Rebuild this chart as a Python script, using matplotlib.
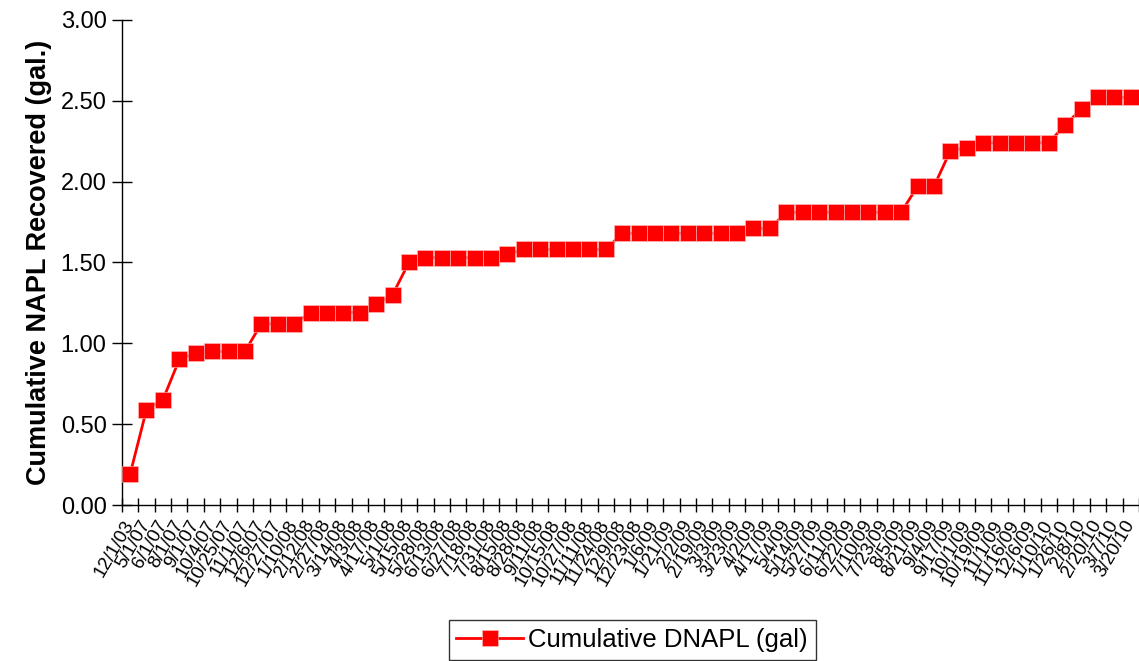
import numpy as np
import matplotlib.pyplot as plt

plt.rcParams["font.family"] = ["Liberation Sans", "DejaVu Sans"]

dates = [
    "12/1/03", "5/1/07", "6/1/07", "8/1/07", "9/1/07", "10/4/07", "10/25/07",
    "11/1/07", "12/6/07", "12/27/07", "1/10/08", "2/12/08", "2/27/08", "3/14/08",
    "4/3/08", "4/17/08", "5/1/08", "5/15/08", "5/28/08", "6/13/08", "6/27/08",
    "7/18/08", "7/31/08", "8/15/08", "8/28/08", "9/11/08", "10/15/08", "10/27/08",
    "11/11/08", "11/24/08", "12/9/08", "12/23/08", "1/6/09", "1/21/09", "2/2/09",
    "2/19/09", "3/3/09", "3/23/09", "4/2/09", "4/17/09", "5/4/09", "5/14/09",
    "5/27/09", "6/11/09", "6/22/09", "7/10/09", "7/23/09", "8/5/09", "8/21/09",
    "9/4/09", "9/17/09", "10/1/09", "10/19/09", "11/1/09", "11/16/09", "12/6/09",
    "1/10/10", "1/26/10", "2/8/10", "2/20/10", "3/7/10", "3/20/10",
]

dnapl = [
    0.19, 0.59, 0.65, 0.90, 0.94, 0.95, 0.95, 0.95, 1.12, 1.12, 1.12,
    1.19, 1.19, 1.19, 1.19, 1.24, 1.30, 1.50, 1.53, 1.53, 1.53, 1.53,
    1.53, 1.55, 1.58, 1.58, 1.58, 1.58, 1.58, 1.58, 1.68, 1.68, 1.68,
    1.68, 1.68, 1.68, 1.68, 1.68, 1.71, 1.71, 1.81, 1.81, 1.81, 1.81,
    1.81, 1.81, 1.81, 1.81, 1.97, 1.97, 2.19, 2.21, 2.24, 2.24, 2.24,
    2.24, 2.24, 2.35, 2.45, 2.52, 2.52, 2.52,
]

y_ticks = [0.0, 0.5, 1.0, 1.5, 2.0, 2.5, 3.0]

fig = plt.figure(figsize=(11.39, 6.61), dpi=100)
ax = fig.add_axes([0.107, 0.236, 0.893, 0.734])

x = np.arange(len(dates))
ax.plot(x, dnapl, color="#ff0000", linewidth=2, marker="s", markersize=11.2,
        markerfacecolor="#ff0000", markeredgecolor="#ffc0c0",
        markeredgewidth=0.4, label="Cumulative DNAPL (gal)",
        clip_on=False, zorder=3)

ax.set_xlim(-0.5, len(dates) - 0.5)
ax.set_ylim(0, 3.0)
ax.set_yticks(y_ticks)
ax.set_yticklabels([f"{v:.2f}" for v in y_ticks], fontsize=17)
ax.tick_params(axis="y", direction="inout", length=14, width=1, pad=4)

# labels centred on categories, tick marks on category boundaries
ax.set_xticks(x)
ax.set_xticklabels(dates, fontsize=13.5, rotation=60, ha="right", va="center",
                   rotation_mode="anchor")
ax.tick_params(axis="x", which="major", length=0, pad=12)
ax.set_xticks(np.arange(len(dates) + 1) - 0.5, minor=True)
ax.tick_params(axis="x", which="minor", direction="inout", length=10, width=1)

for side in ["top", "right"]:
    ax.spines[side].set_visible(False)
for side in ["left", "bottom"]:
    ax.spines[side].set_linewidth(1)
    ax.spines[side].set_color("black")

ax.set_ylabel("Cumulative NAPL Recovered (gal.)", fontsize=19.5,
              fontweight="bold", labelpad=6)

leg = fig.legend(loc="lower center", bbox_to_anchor=(0.555, 0.002),
                 fontsize=18.5, frameon=True, fancybox=False, handlelength=2.6,
                 borderpad=0.3, handletextpad=0.2, borderaxespad=0)
leg.get_frame().set_edgecolor("black")
leg.get_frame().set_linewidth(1)

fig.savefig("out.png", dpi=100)
